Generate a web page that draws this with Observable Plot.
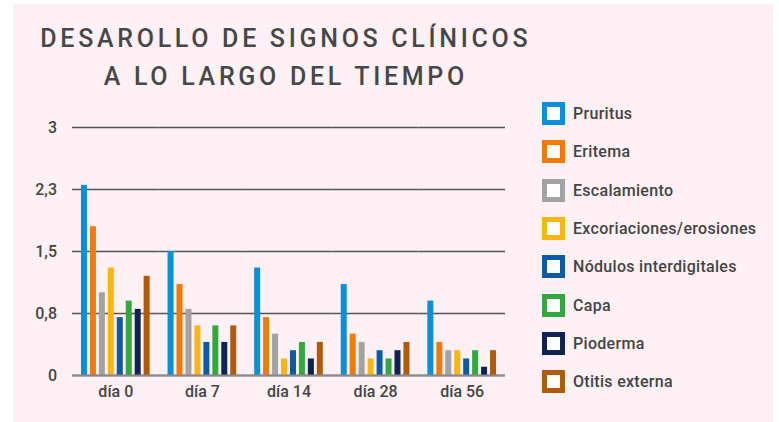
<!DOCTYPE html>
<html><head><meta charset="utf-8">
<script src="https://cdn.jsdelivr.net/npm/d3@7"></script>
<script src="https://cdn.jsdelivr.net/npm/@observablehq/plot@0.6"></script>
<style>
body{margin:0;background:#ffffff;}
#wrap{position:relative;width:779px;height:422px;background:#ffffff;overflow:hidden;font-family:Roboto,"Noto Sans",sans-serif;color:#444;}
#panel{position:absolute;left:13px;top:4px;width:760px;height:418px;background:#fdf1f5;}
.tl{position:absolute;left:0;width:568px;text-align:center;font-size:25px;line-height:25px;font-weight:500;letter-spacing:3.7px;padding-left:3.7px;box-sizing:border-box;color:#474747;white-space:nowrap;}
#chart{position:absolute;left:0;top:100px;}
.lg{position:absolute;left:542px;height:23px;display:flex;align-items:center;font-size:16px;font-weight:500;letter-spacing:0.3px;color:#444;white-space:nowrap;}
.sw{width:23px;height:23px;box-sizing:border-box;border:5.5px solid;background:#fff;margin-right:8px;}
</style>
</head><body>
<div id="wrap">
  <div id="panel"></div>
  <div class="tl" id="t1" style="top:26px"></div>
  <div class="tl" id="t2" style="top:64px"></div>
  <div id="chart"></div>
  <div id="legend"></div>
</div>
<script>
const titleLines = ["DESAROLLO DE SIGNOS CLÍNICOS", "A LO LARGO DEL TIEMPO"];
const days = ["día 0", "día 7", "día 14", "día 28", "día 56"];
const signs = ["Pruritus", "Eritema", "Escalamiento", "Excoriaciones/erosiones", "Nódulos interdigitales", "Capa", "Pioderma", "Otitis externa"];
const colors = ["#0b8fd6", "#f07a0c", "#a3a3a3", "#fdb515", "#0b5aa6", "#33a83f", "#0d2352", "#b05b08"];
const pruritus = [2.3, 1.5, 1.3, 1.1, 0.9];
const eritema = [1.8, 1.1, 0.7, 0.5, 0.4];
const escalamiento = [1.0, 0.8, 0.5, 0.4, 0.3];
const excoriaciones = [1.3, 0.6, 0.2, 0.2, 0.3];
const nodulos = [0.7, 0.4, 0.3, 0.3, 0.2];
const capa = [0.9, 0.6, 0.4, 0.2, 0.3];
const pioderma = [0.8, 0.4, 0.2, 0.3, 0.1];
const otitis = [1.2, 0.6, 0.4, 0.4, 0.3];
const yTicks = [0, 0.75, 1.5, 2.25, 3];
const yTickLabels = ["0", "0,8", "1,5", "2,3", "3"];

const series = [pruritus, eritema, escalamiento, excoriaciones, nodulos, capa, pioderma, otitis];
const data = signs.flatMap((s, i) => series[i].map((v, j) => ({day: days[j], sign: s, value: v})));
const labelMap = new Map(yTicks.map((t, i) => [t, yTickLabels[i]]));

document.getElementById("t1").textContent = titleLines[0];
document.getElementById("t2").textContent = titleLines[1];

const chart = Plot.plot({
  width: 779,
  height: 322,
  marginTop: 27,
  marginBottom: 47,
  marginLeft: 72,
  marginRight: 274,
  style: {background: "transparent", fontFamily: "Roboto, 'Noto Sans', sans-serif", fontSize: "16px", fontWeight: 500, color: "#444", overflow: "visible"},
  fx: {domain: days, padding: 0, round: false, axis: "bottom", label: null, tickSize: 0, tickPadding: 10},
  x: {domain: signs, axis: null, round: false, paddingInner: 0.33, paddingOuter: 1},
  y: {domain: [0, 3]},
  color: {domain: signs, range: colors},
  marks: [
    Plot.gridY(yTicks, {stroke: "#555", strokeOpacity: 1, strokeWidth: 1.3}),
    Plot.axisY(yTicks, {tickSize: 0, tickPadding: 15.5, tickFormat: d => labelMap.get(d), label: null, fontSize: 16}),
    Plot.barY(data, {fx: "day", x: "sign", y: "value", fill: "sign"}),
    Plot.ruleY([0], {stroke: "#8a8a8a", strokeWidth: 2})
  ]
});
document.getElementById("chart").appendChild(chart);

const legend = document.getElementById("legend");
signs.forEach((s, i) => {
  const row = document.createElement("div");
  row.className = "lg";
  row.style.top = (102 + 38.3 * i) + "px";
  const sw = document.createElement("div");
  sw.className = "sw";
  sw.style.borderColor = colors[i];
  const tx = document.createElement("span");
  tx.textContent = s;
  row.appendChild(sw);
  row.appendChild(tx);
  legend.appendChild(row);
});
</script>
</body></html>
